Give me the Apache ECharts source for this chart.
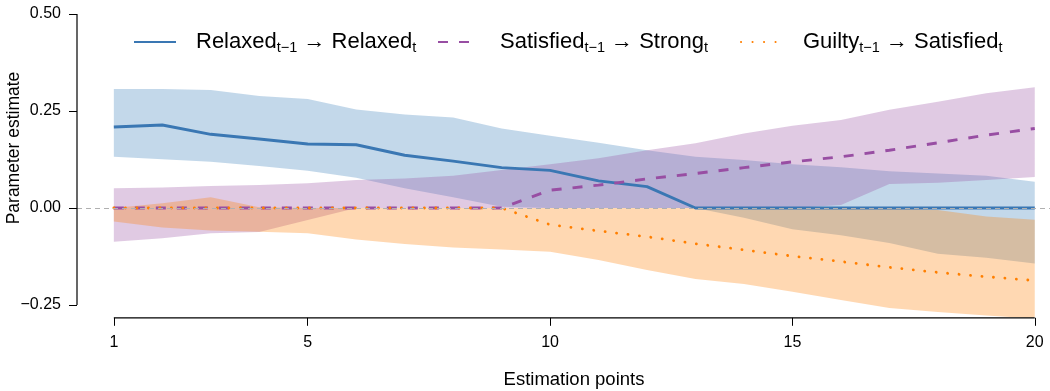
<!DOCTYPE html>
<html><head><meta charset="utf-8">
<script src="https://cdn.jsdelivr.net/npm/echarts@6/dist/echarts.min.js"></script>
<style>html,body{margin:0;padding:0;background:#fff}#c{width:1050px;height:391px}</style>
</head><body><div id="c"></div>
<script>
// ---- data ----
const points = [1,2,3,4,5,6,7,8,9,10,11,12,13,14,15,16,17,18,19,20];
const xTicks = [1,5,10,15,20];
const yTicks = [-0.25,0,0.25,0.5];

const relaxedMean  = [0.209,0.214,0.190,0.178,0.165,0.163,0.136,0.121,0.104,0.097,0.070,0.055,0,0,0,0,0,0,0,0];
const relaxedUpper = [0.307,0.307,0.304,0.289,0.281,0.254,0.241,0.233,0.205,0.186,0.168,0.149,0.132,0.124,0.113,0.105,0.095,0.089,0.083,0.068];
const relaxedLower = [0.132,0.126,0.119,0.108,0.096,0.078,0.051,0.028,0.003,0,0,0,0,-0.025,-0.055,-0.070,-0.090,-0.118,-0.128,-0.143];

const satisfiedMean  = [0,0,0,0,0,0,0,0,0,0.046,0.059,0.075,0.089,0.104,0.119,0.132,0.149,0.168,0.188,0.205];
const satisfiedUpper = [0.051,0.053,0.057,0.059,0.064,0.072,0.076,0.083,0.098,0.113,0.128,0.149,0.167,0.192,0.212,0.227,0.253,0.274,0.296,0.311];
const satisfiedLower = [-0.087,-0.078,-0.065,-0.062,-0.031,0,0,0,0,0,0,0,0,0,0,0.008,0.062,0.065,0.072,0.080];

const guiltyMean  = [0,0,0,0,0,0,0,0,0,-0.043,-0.059,-0.074,-0.092,-0.108,-0.124,-0.138,-0.153,-0.166,-0.177,-0.187];
const guiltyUpper = [0,0.012,0.028,0.002,0,0,0,0,0,0,0,0,0,0,0,0,0,-0.005,-0.022,-0.030];
const guiltyLower = [-0.035,-0.050,-0.058,-0.061,-0.065,-0.081,-0.093,-0.102,-0.107,-0.113,-0.134,-0.160,-0.183,-0.196,-0.216,-0.237,-0.258,-0.268,-0.277,-0.285];

const fromLabels = ['Relaxed','Satisfied','Guilty'];
const toLabels   = ['Relaxed','Strong','Satisfied'];
const lagSub = 't\u22121';
const curSub = 't';
const seriesNames = fromLabels.map((f,i)=>f+'(t-1) -> '+toLabels[i]+'(t)');

const xMin = 0.24, xMax = 20.76, yMin = -0.283, yMax = 0.53;
const FONT = 'Liberation Sans, Arial, Helvetica, sans-serif';

function pairs(vals){ return points.map((x,i)=>[x, vals[i]]); }
function band(id, lower, upper, color){
  return {type:'custom', id:id, silent:true, z:1, clip:true,
    data:[[points[0], lower[0]]],
    renderItem:(params, api)=>{
      const top = points.map((x,i)=>api.coord([x, upper[i]]));
      const bot = points.map((x,i)=>api.coord([x, lower[i]])).reverse();
      const cs = params.coordSys;
      return {type:'polygon', shape:{points:top.concat(bot)}, style:{fill:color},
        clipPath:{type:'rect', shape:{x:cs.x, y:cs.y, width:cs.width, height:cs.height}}};
    }};
}
function meanLine(name, vals, color, type, cap, w){
  return {type:'line', name:name, data:pairs(vals), symbol:'none', z:3,
    lineStyle:{color:color, width:w||2.7, type:type, cap:cap||'butt'}, itemStyle:{color:color}};
}

const chart = echarts.init(document.getElementById('c'), null, {renderer:'canvas'});
const legendRich = {
  f:{fontSize:22, fontFamily:FONT, color:'#000', lineHeight:26, padding:[0,0,0,15]},
  a:{fontSize:22, fontFamily:FONT, color:'#000', lineHeight:26},
  s:{fontSize:14.5, fontFamily:FONT, color:'#000', lineHeight:12, verticalAlign:'bottom'}
};
function legendFor(i, left){
  return {data:[seriesNames[i]], left:left, top:31, padding:0, itemWidth:42, itemHeight:14,
    selectedMode:false, orient:'horizontal',
    itemStyle:{opacity:0},
    textStyle:{rich:legendRich},
    formatter:()=>'{f|'+fromLabels[i]+'}{s|'+lagSub+'}{a| \u2192 '+toLabels[i]+'}{s|'+curSub+'}'};
}

chart.setOption({
  animation:false,
  backgroundColor:'#fff',
  grid:{left:77, top:2.4, width:(xMax-xMin)*48.47, height:315.4, outerBoundsMode:'none', containLabel:false},
  xAxis:{type:'value', min:xMin, max:xMax,
    axisLine:{show:false, onZero:false}, splitLine:{show:false},
    axisTick:{show:true, customValues:xTicks, length:8, lineStyle:{color:'#000', width:1}},
    axisLabel:{customValues:xTicks, margin:17, fontSize:16, fontFamily:FONT, color:'#000'}},
  yAxis:{type:'value', min:yMin, max:yMax,
    axisLine:{show:false, onZero:false}, splitLine:{show:false},
    axisTick:{show:true, customValues:yTicks, length:8, lineStyle:{color:'#000', width:1}},
    axisLabel:{customValues:yTicks, margin:16, fontSize:16, fontFamily:FONT, color:'#000',
      formatter:v=>(v<0?'\u2212':'')+Math.abs(v).toFixed(2)}},
  legend:[legendFor(0,133), legendFor(1,437), legendFor(2,740)],
  graphic:[
    {type:'text', x:14, y:148, rotation:Math.PI/2, style:{text:'Parameter estimate', fontSize:17.5, fontFamily:FONT, fill:'#000', align:'center', verticalAlign:'middle'}},
    {type:'text', x:574, y:380, style:{text:'Estimation points', fontSize:18.5, fontFamily:FONT, fill:'#000', align:'center', verticalAlign:'middle'}}
  ],
  series:[
    {type:'line', id:'zeroRef', data:[], symbol:'none', silent:true,
     markLine:{silent:true, symbol:'none', label:{show:false}, data:[{yAxis:0}],
       lineStyle:{color:'#b0b0b0', width:1, type:[5,4]}}},
    band('rb', relaxedLower, relaxedUpper, 'rgba(55,126,184,0.3)'),
    band('sb', satisfiedLower, satisfiedUpper, 'rgba(152,78,163,0.3)'),
    band('gb', guiltyLower, guiltyUpper, 'rgba(255,127,0,0.3)'),
    meanLine(seriesNames[0], relaxedMean, '#3a77b3', 'solid', 'butt', 2.9),
    meanLine(seriesNames[1], satisfiedMean, '#984ea3', [10,11], 'butt', 2.9),
    meanLine(seriesNames[2], guiltyMean, '#ff7f00', [0.1,11.4], 'round', 2.8),
    {type:'line', id:'xAxisLine', data:[[xTicks[0], yMin],[xTicks[xTicks.length-1], yMin]], symbol:'none', clip:false, silent:true, z:5,
     lineStyle:{color:'#000', width:1.2}},
    {type:'line', id:'yAxisLine', data:[[xMin, yTicks[0]],[xMin, yTicks[yTicks.length-1]]], symbol:'none', clip:false, silent:true, z:5,
     lineStyle:{color:'#000', width:1.2}}
  ]
});
</script></body></html>
